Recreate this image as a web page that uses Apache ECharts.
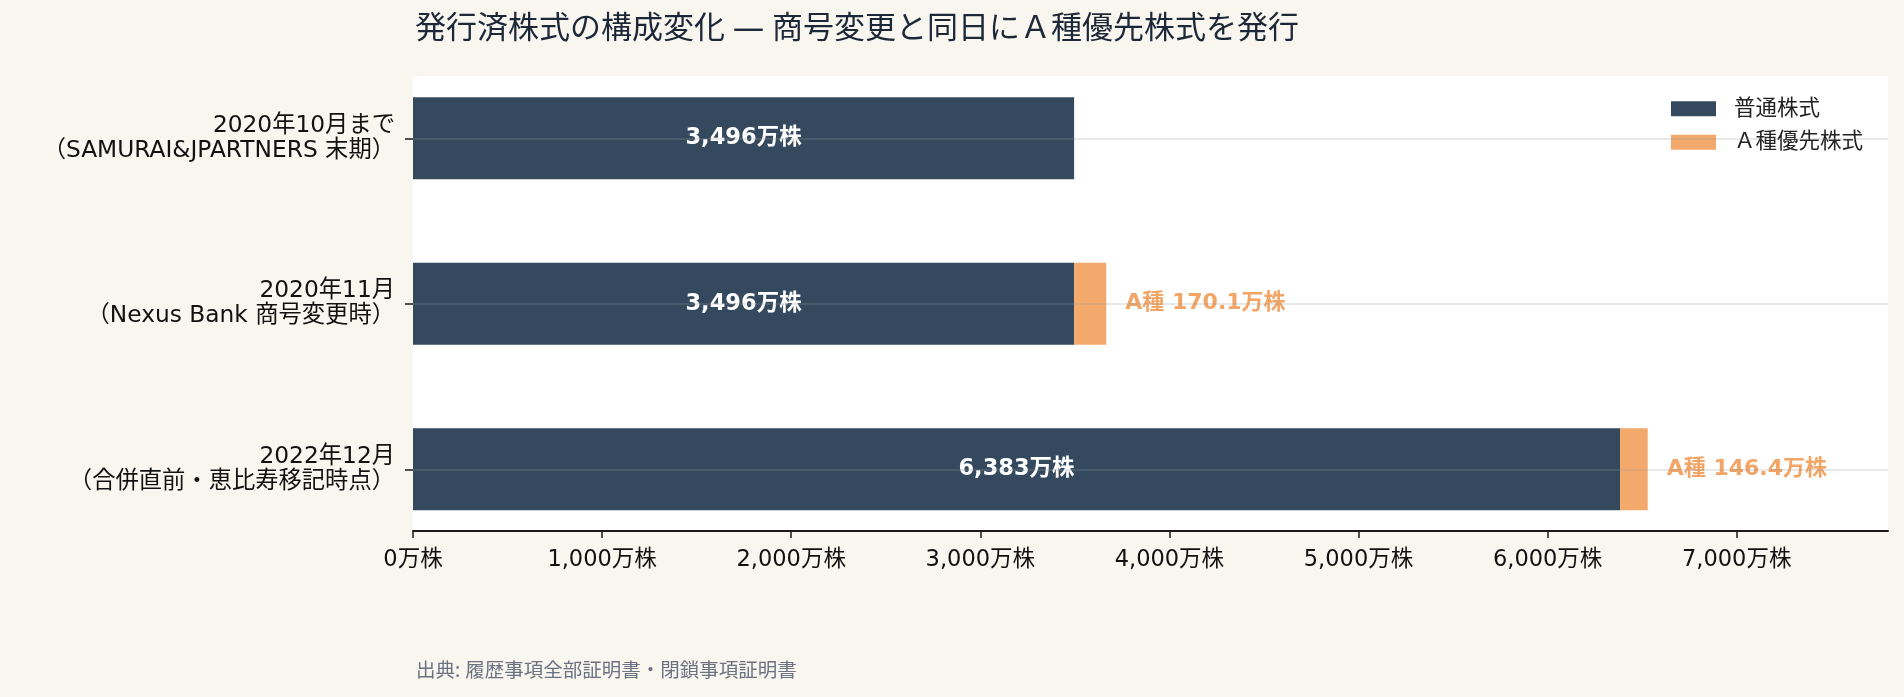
<!DOCTYPE html>
<html>
<head>
<meta charset="utf-8">
<script src="https://cdn.jsdelivr.net/npm/echarts@6/dist/echarts.min.js"></script>
<style>
  html, body { margin: 0; padding: 0; background: #f9f6f0; }
  #myChart { width: 1904px; height: 697px; }
</style>
</head>
<body>
<div id="myChart"></div>
<script>
// 時点（カテゴリ）
var periods = [
  '2020年10月まで\n（SAMURAI&JPARTNERS 末期）',
  '2020年11月\n（Nexus Bank 商号変更時）',
  '2022年12月\n（合併直前・恵比寿移記時点）'
];
// 普通株式（万株）
var commonShares = [3496, 3496, 6383];
// Ａ種優先株式（万株）
var prefShares = [0, 170.1, 146.4];
// 横軸の目盛り
var xTicks = [0, 1000, 2000, 3000, 4000, 5000, 6000, 7000];

var FONT = '"DejaVu Sans", "Noto Sans CJK JP", sans-serif';
var TITLE_FONT = '"Noto Sans", "Noto Sans CJK JP", sans-serif';
var NAVY = '#34495e';
var ORANGE = '#f4a96c';

var myChart = echarts.init(document.getElementById('myChart'));

var option = {
  backgroundColor: '#f9f6f0',
  textStyle: { fontFamily: FONT },
  title: [{
    text: '発行済株式の構成変化 ― 商号変更と同日にＡ種優先株式を発行',
    left: 410,
    top: 9,
    textStyle: { fontFamily: TITLE_FONT, fontSize: 31, fontWeight: 'normal', color: '#1c2838' }
  }, {
    text: '出典: 履歴事項全部証明書・閉鎖事項証明書',
    left: 411,
    top: 657,
    textStyle: { fontFamily: TITLE_FONT, fontSize: 19.5, fontWeight: 'normal', color: '#6b7280' }
  }],
  graphic: [{
    type: 'rect',
    z: -10,
    silent: true,
    shape: { x: 413, y: 76, width: 1475, height: 455 },
    style: { fill: '#ffffff' }
  }],
  legend: {
    orient: 'vertical',
    right: 36,
    top: 93,
    align: 'left',
    icon: 'rect',
    itemWidth: 45,
    itemHeight: 15,
    itemGap: 12,
    backgroundColor: '#ffffff',
    data: ['普通株式', 'Ａ種優先株式'],
    textStyle: { fontFamily: TITLE_FONT, fontSize: 21.5, color: '#222', padding: [0, 0, 0, 13] }
  },
  grid: {
    left: 413,
    right: 16,
    top: 55.5,
    bottom: 145,
    containLabel: false
  },
  xAxis: {
    type: 'value',
    min: 0,
    max: 7800,
    offset: -21,
    axisLine: { show: true, lineStyle: { color: '#1a1a1a', width: 2 } },
    axisTick: { show: true, length: 7, customValues: xTicks, lineStyle: { color: '#1a1a1a', width: 1.5 } },
    axisLabel: {
      customValues: xTicks,
      margin: 18,
      fontFamily: FONT,
      fontSize: 22.5,
      color: '#111',
      formatter: function (v) { return v.toLocaleString('en-US') + '万株'; }
    },
    splitLine: { show: false }
  },
  yAxis: {
    type: 'category',
    inverse: true,
    data: periods,
    axisLine: { show: false },
    axisTick: { show: true, alignWithLabel: true, length: 8, lineStyle: { color: '#1a1a1a', width: 1.5 } },
    axisLabel: {
      margin: 18,
      fontFamily: FONT,
      fontSize: 23.3,
      lineHeight: 25,
      padding: [4, 0, 0, 0],
      color: '#111',
      align: 'right'
    },
    splitLine: { show: false }
  },
  series: [
    {
      name: '普通株式',
      type: 'bar',
      stack: 'total',
      barWidth: 82,
      color: NAVY,
      data: commonShares,
      label: {
        show: true,
        position: 'inside',
        fontFamily: FONT,
        fontSize: 22.5,
        fontWeight: 'bold',
        color: '#ffffff',
        formatter: function (p) { return p.value.toLocaleString('en-US') + '万株'; }
      },
      markLine: {
        silent: true,
        symbol: ['none', 'none'],
        label: { show: false },
        lineStyle: { color: 'rgba(150,150,150,0.22)', width: 2, type: 'solid' },
        data: periods.map(function (p) { return { yAxis: p }; })
      }
    },
    {
      name: 'Ａ種優先株式',
      type: 'bar',
      stack: 'total',
      barWidth: 82,
      color: ORANGE,
      data: prefShares,
      label: {
        show: true,
        position: 'right',
        distance: 19,
        fontFamily: FONT,
        fontSize: 22,
        fontWeight: 'bold',
        color: '#f2a565',
        formatter: function (p) { return p.value > 0 ? 'A種 ' + p.value.toFixed(1) + '万株' : ''; }
      }
    }
  ]
};

myChart.setOption(option);
</script>
</body>
</html>
